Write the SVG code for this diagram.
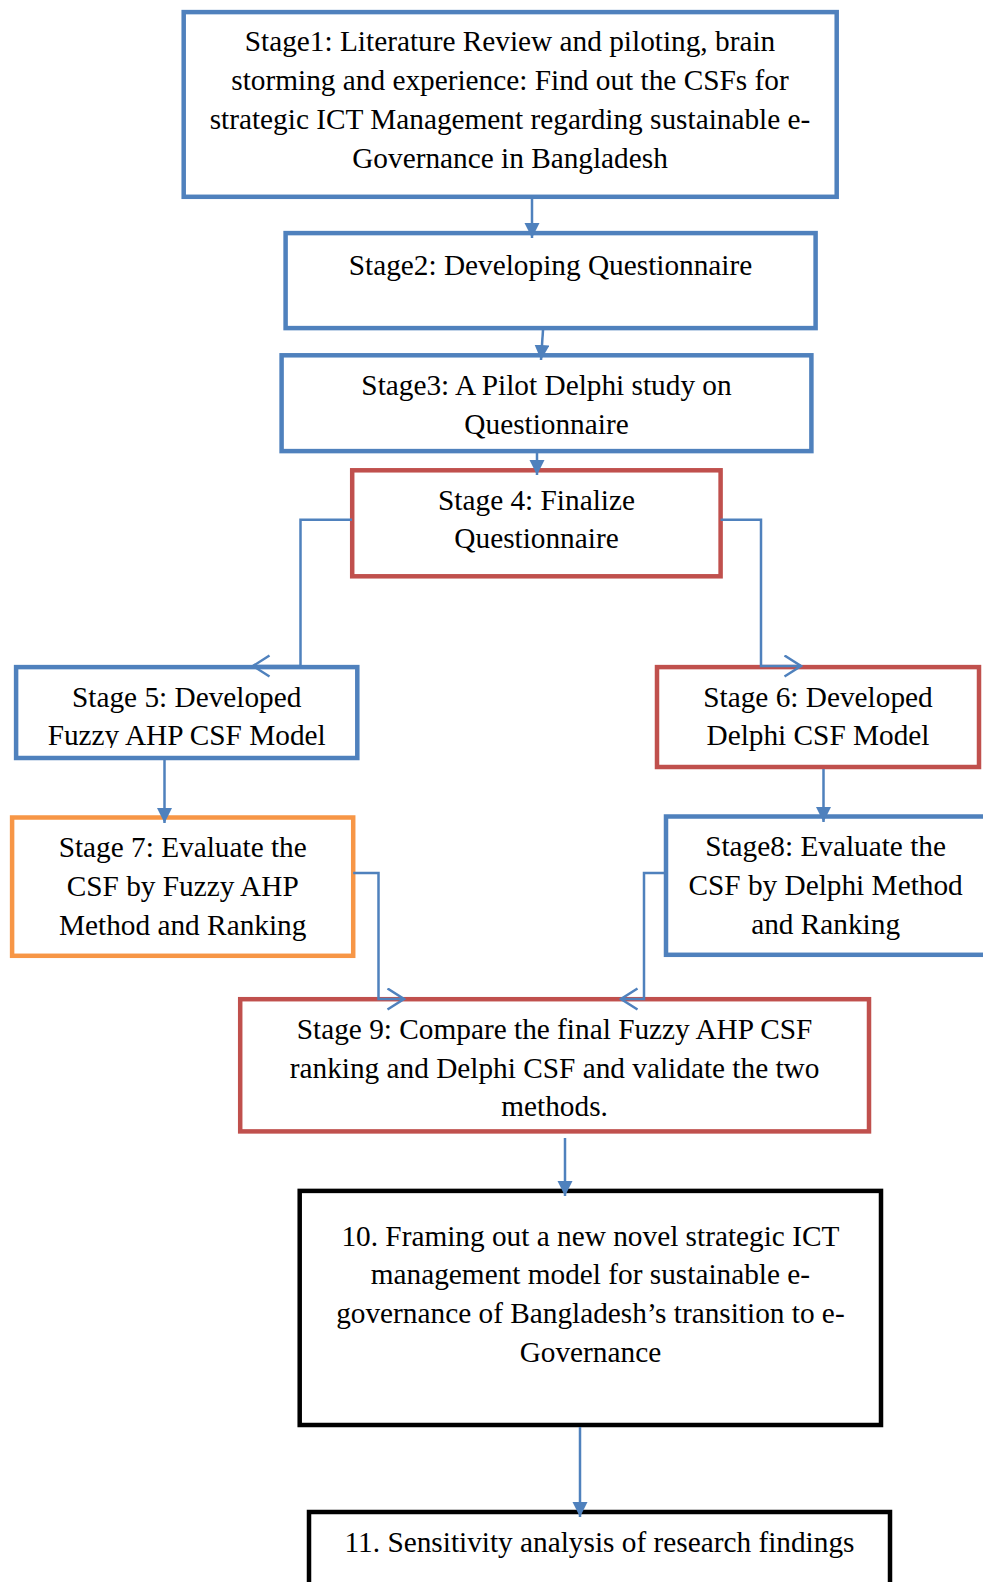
<svg xmlns="http://www.w3.org/2000/svg" width="983" height="1582" viewBox="0 0 983 1582">
<style>
text{font-family:"Liberation Serif","Times New Roman",serif;font-size:29.3px;fill:#000;text-anchor:middle}
.box{fill:#fff;stroke-width:4.5}
.blue{stroke:#4F81BD}
.red{stroke:#C0504D}
.orange{stroke:#F79646}
.black{stroke:#000}
.conn{fill:none;stroke:#4F81BD;stroke-width:2.5}
</style>
<defs>
<marker id="ah" markerUnits="userSpaceOnUse" markerWidth="16" markerHeight="16" refX="15" refY="7.5" orient="auto">
<path d="M0,0 L15,7.5 L0,15 z" fill="#4F81BD"/>
</marker>
<marker id="chev" markerUnits="userSpaceOnUse" markerWidth="20" markerHeight="24" refX="18" refY="11.5" orient="auto">
<path d="M1.5,1 L18,11.5 L1.5,22" fill="none" stroke="#4F81BD" stroke-width="2.5"/>
</marker>
<clipPath id="clip5"><rect x="16" y="660" width="345" height="88"/></clipPath>
</defs>
<rect width="983" height="1582" fill="#fff"/>
<g id="stage1">
<rect class="box blue" x="183.7" y="12.1" width="653" height="184.7"/>
<text x="510" y="51">Stage1: Literature Review and piloting, brain</text>
<text x="510" y="90">storming and experience: Find out the CSFs for</text>
<text x="510" y="129">strategic ICT Management regarding sustainable e-</text>
<text x="510" y="168">Governance in Bangladesh</text>
</g>
<g id="stage2">
<rect class="box blue" x="285.6" y="233.1" width="530" height="95"/>
<text x="550.5" y="275">Stage2: Developing Questionnaire</text>
</g>
<g id="stage3">
<rect class="box blue" x="281.6" y="355.3" width="529.8" height="95.8"/>
<text x="546.5" y="394.5">Stage3: A Pilot Delphi study on</text>
<text x="546.5" y="434">Questionnaire</text>
</g>
<g id="stage4">
<rect class="box red" x="352.2" y="470.3" width="368.4" height="106"/>
<text x="536.5" y="509.5">Stage 4: Finalize</text>
<text x="536.5" y="548">Questionnaire</text>
</g>
<g id="stage5">
<rect class="box blue" x="16.1" y="667.1" width="341.2" height="90.9"/>
<text x="186.7" y="706.5">Stage 5: Developed</text>
<text x="186.7" y="745" clip-path="url(#clip5)">Fuzzy AHP CSF Model</text>
</g>
<g id="stage6">
<rect class="box red" x="657" y="667.1" width="322" height="99.9"/>
<text x="818" y="706.5">Stage 6: Developed</text>
<text x="818" y="745">Delphi CSF Model</text>
</g>
<g id="stage7">
<rect class="box orange" x="12.1" y="817.5" width="341.1" height="138.3"/>
<text x="182.7" y="857">Stage 7: Evaluate the</text>
<text x="182.7" y="895.5">CSF by Fuzzy AHP</text>
<text x="182.7" y="934.5">Method and Ranking</text>
</g>
<g id="stage8">
<rect class="box blue" x="666" y="816.5" width="321" height="138.3"/>
<text x="825.6" y="856">Stage8: Evaluate the</text>
<text x="825.6" y="895">CSF by Delphi Method</text>
<text x="825.6" y="933.5">and Ranking</text>
</g>
<g id="stage9">
<rect class="box red" x="240.2" y="999.2" width="628.8" height="132.2"/>
<text x="554.6" y="1038.5">Stage 9: Compare the final Fuzzy AHP CSF</text>
<text x="554.6" y="1078">ranking and Delphi CSF and validate the two</text>
<text x="554.6" y="1116">methods.</text>
</g>
<g id="stage10">
<rect class="box black" x="299.7" y="1190.9" width="581.3" height="234.1"/>
<text x="590.4" y="1245.5">10. Framing out a new novel strategic ICT</text>
<text x="590.4" y="1284">management model for sustainable e-</text>
<text x="590.4" y="1322.5">governance of Bangladesh’s transition to e-</text>
<text x="590.4" y="1361.5">Governance</text>
</g>
<g id="stage11">
<rect class="box black" x="309" y="1512" width="581" height="80"/>
<text x="599.5" y="1552">11. Sensitivity analysis of research findings</text>
</g>
<g id="connectors">
<line class="conn" x1="532" y1="199" x2="532" y2="238" marker-end="url(#ah)"/>
<line class="conn" x1="543" y1="330" x2="541" y2="360" marker-end="url(#ah)"/>
<line class="conn" x1="537" y1="453" x2="537" y2="475" marker-end="url(#ah)"/>
<polyline class="conn" points="352,519.8 300.5,519.8 300.5,666 253,666" marker-end="url(#chev)"/>
<polyline class="conn" points="720.6,519.8 761,519.8 761,666 801,666" marker-end="url(#chev)"/>
<line class="conn" x1="164.5" y1="760" x2="164.5" y2="823" marker-end="url(#ah)"/>
<line class="conn" x1="823.5" y1="769" x2="823.5" y2="822" marker-end="url(#ah)"/>
<polyline class="conn" points="353.2,873 378.5,873 378.5,999 404,999" marker-end="url(#chev)"/>
<polyline class="conn" points="666,873 644,873 644,999 621,999" marker-end="url(#chev)"/>
<line class="conn" x1="565" y1="1138" x2="565" y2="1196" marker-end="url(#ah)"/>
<line class="conn" x1="580" y1="1427" x2="580" y2="1517" marker-end="url(#ah)"/>
</g>
</svg>
